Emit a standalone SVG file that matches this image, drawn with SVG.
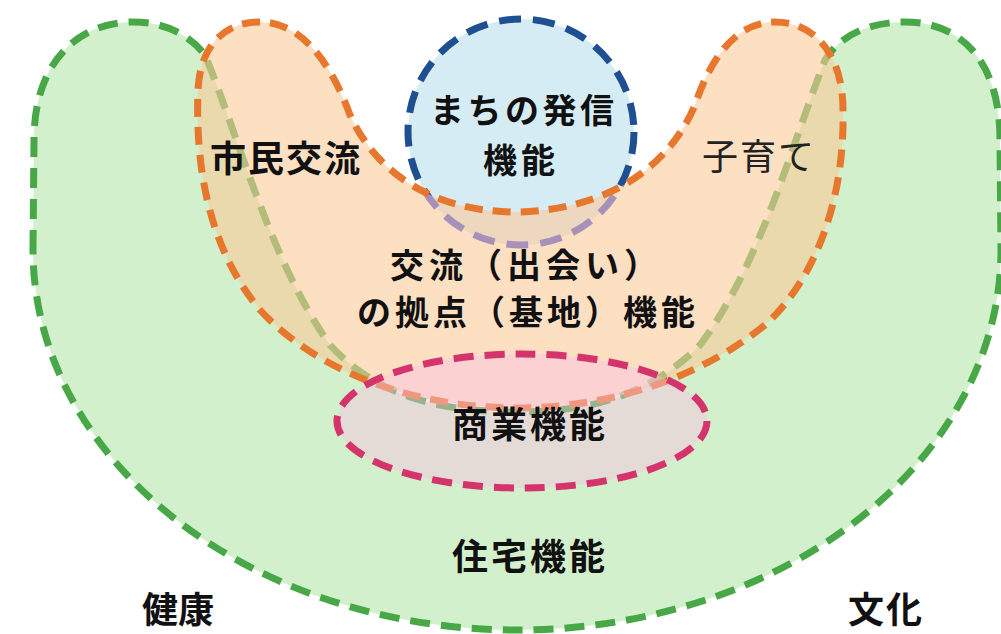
<svg xmlns="http://www.w3.org/2000/svg" width="1001" height="634" viewBox="0 0 1001 634">
  <style>
    .lbl { font-family: "Noto Sans CJK JP", "Noto Sans CJK SC", sans-serif; font-weight: 700; fill: #111; }
    .thin { font-weight: 400; fill: #222; }
    .dash { stroke-width: 7; stroke-linecap: butt; fill-rule: evenodd; }
  </style>
  <defs>
    <linearGradient id="blueStroke" gradientUnits="userSpaceOnUse" x1="0" y1="19" x2="0" y2="245">
      <stop offset="0" stop-color="#1d4f91"/>
      <stop offset="0.76" stop-color="#1d4f91"/>
      <stop offset="0.78" stop-color="#2a3ee6"/>
      <stop offset="1" stop-color="#2a3ee6"/>
    </linearGradient>
  </defs>
  <rect width="1001" height="634" fill="#ffffff"/>
  <g id="housing">
    <path class="dash" d="M 33,250 L 34,140 C 34,60 80,22 133,22 C 165,22 190,35 205,55 C 240,140 270,260 330,345 C 380,400 450,412 517,412 C 590,412 650,395 700,345 C 760,265 790,150 825,60 C 840,35 870,22 905,22 C 960,22 1000,60 1000,140 L 1001,250 A 484,380 0 0 1 33,250 Z" fill="#d3f0cc" stroke="#48a848" stroke-dasharray="20 11"/>
  </g>
  <g id="city-broadcast">
    <circle class="dash" cx="521" cy="132" r="113" fill="#d6ecf4" stroke="url(#blueStroke)" stroke-dasharray="22 12"/>
  </g>
  <g id="exchange-hub">
    <path class="dash" d="M 260,22 C 225,22 200,45 198,90 C 195,170 210,250 260,310 C 320,375 420,408 517,408 C 610,408 700,378 765,325 C 815,280 845,200 843,110 C 843,55 815,22 775,22 C 735,22 710,60 695,105 C 670,165 610,210 517,212 C 430,212 375,170 350,115 C 330,60 300,22 260,22 Z" fill="#fcc99a" fill-opacity="0.6" stroke="#e8772e" stroke-dasharray="18 10"/>
  </g>
  <g id="commerce">
    <ellipse class="dash" cx="522" cy="421" rx="185" ry="67" fill="#f8c0e4" fill-opacity="0.45" stroke="#d4336c" stroke-dasharray="20 11"/>
  </g>
  <g id="connectors"></g>
  <g id="labels">
    <text class="lbl" x="430" y="123" font-size="34" letter-spacing="3.5">まちの発信</text>
    <text class="lbl" x="483" y="173" font-size="34" letter-spacing="4">機能</text>
    <text class="lbl" x="210" y="172" font-size="36" letter-spacing="2">市民交流</text>
    <text class="lbl thin" x="702" y="170" font-size="36" letter-spacing="2">子育て</text>
    <text class="lbl" x="390" y="278" font-size="34" letter-spacing="5">交流（出会い）</text>
    <text class="lbl" x="357" y="325" font-size="34" letter-spacing="4">の拠点（基地）機能</text>
    <text class="lbl" x="452" y="438" font-size="36" letter-spacing="3">商業機能</text>
    <text class="lbl" x="452" y="570" font-size="36" letter-spacing="3">住宅機能</text>
    <text class="lbl" x="142" y="623" font-size="36">健康</text>
    <text class="lbl" x="848" y="623" font-size="36" letter-spacing="2">文化</text>
  </g>
</svg>
